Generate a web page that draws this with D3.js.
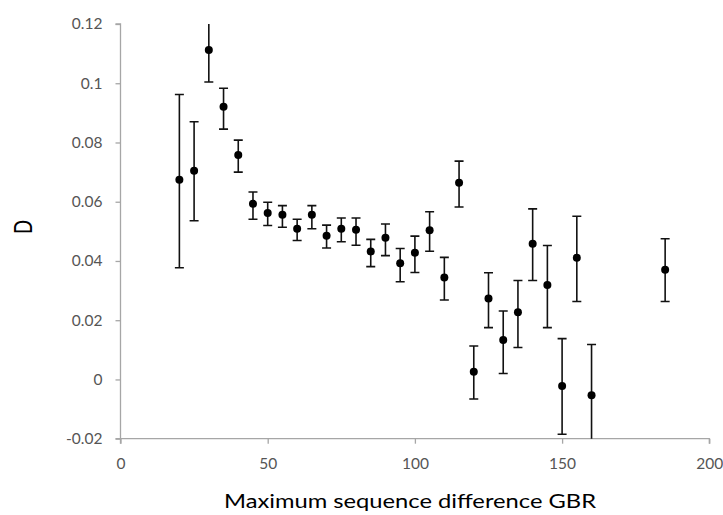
<!DOCTYPE html>
<html><head><meta charset="utf-8">
<script src="https://cdn.jsdelivr.net/npm/d3@7"></script>
<style>body{margin:0;background:#fff}svg{display:block}</style>
</head><body>
<script>
const xValues = [20,25,30,35,40,45,50,55,60,65,70,75,80,85,90,95,100,105,110,115,120,125,130,135,140,145,150,155,160,185];
const dValues = [0.0674,0.0705,0.1112,0.0921,0.0758,0.0593,0.0562,0.0556,0.0509,0.0556,0.0485,0.0509,0.0505,0.0432,0.0478,0.0392,0.0428,0.0504,0.0344,0.0664,0.0026,0.0273,0.0133,0.0227,0.0458,0.0319,-0.0022,0.0411,-0.0053,0.0370];
const upperValues = [0.0962,0.0870,0.1216,0.0983,0.0808,0.0633,0.0598,0.0587,0.0541,0.0587,0.0521,0.0545,0.0545,0.0473,0.0525,0.0442,0.0484,0.0566,0.0412,0.0737,0.0113,0.0360,0.0231,0.0334,0.0576,0.0452,0.0138,0.0551,0.0118,0.0475];
const lowerValues = [0.0377,0.0536,0.1004,0.0845,0.0700,0.0541,0.0520,0.0514,0.0469,0.0509,0.0444,0.0465,0.0453,0.0381,0.0418,0.0330,0.0361,0.0433,0.0268,0.0582,-0.0066,0.0175,0.0020,0.0108,0.0334,0.0175,-0.0185,0.0263,-0.0224,0.0263];
const xTicks = [0,50,100,150,200];
const yTicks = [-0.02,0,0.02,0.04,0.06,0.08,0.1,0.12];
const xTitle = "Maximum sequence difference GBR";
const yTitle = "D";

const W = 723, H = 515;
const mLeft = 120.5, mRight = 709.3, mTop = 24, mBottom = 438.7;
const x = d3.scaleLinear().domain([0,200]).range([mLeft,mRight]);
const y = d3.scaleLinear().domain([-0.02,0.12]).range([mBottom,mTop]);

const svg = d3.select("body").append("svg").attr("width",W).attr("height",H);
const font = "Lato, 'Open Sans', sans-serif";

svg.append("defs").append("clipPath").attr("id","clip")
  .append("rect").attr("x",mLeft-10).attr("y",mTop).attr("width",mRight-mLeft+20).attr("height",mBottom-mTop);

const yAxis = svg.append("g").attr("transform",`translate(${mLeft},0)`)
  .call(d3.axisLeft(y).tickValues(yTicks).tickSize(5).tickPadding(13).tickFormat(d => String(+d.toFixed(2))));
const xAxis = svg.append("g").attr("transform",`translate(0,${mBottom})`)
  .call(d3.axisBottom(x).tickValues(xTicks).tickSize(5).tickPadding(14));
[yAxis,xAxis].forEach(g => {
  g.selectAll("path.domain").attr("stroke","#a6a6a6").attr("stroke-width",1.3);
  g.selectAll(".tick line").attr("stroke","#a6a6a6").attr("stroke-width",1.3);
  g.selectAll(".tick text").attr("fill","#555").attr("font-family",font).attr("font-size",15.5);
});
yAxis.select("path.domain").attr("d",`M-5,${mBottom}H0V${mTop}H-5`);
xAxis.select("path.domain").attr("d",`M${mLeft},5V0H${mRight}V5`);

const data = xValues.map((v,i)=>({x:v,d:dValues[i],hi:upperValues[i],lo:lowerValues[i]}));
const plot = svg.append("g").attr("clip-path","url(#clip)");
const cap = 4.5;
const eb = plot.selectAll("g.eb").data(data).join("g").attr("class","eb")
  .attr("stroke","#111").attr("stroke-width",1.6);
eb.append("line").attr("x1",d=>x(d.x)).attr("x2",d=>x(d.x)).attr("y1",d=>y(d.hi)).attr("y2",d=>y(d.lo));
eb.append("line").attr("x1",d=>x(d.x)-cap).attr("x2",d=>x(d.x)+cap).attr("y1",d=>y(d.hi)).attr("y2",d=>y(d.hi));
eb.append("line").attr("x1",d=>x(d.x)-cap).attr("x2",d=>x(d.x)+cap).attr("y1",d=>y(d.lo)).attr("y2",d=>y(d.lo));
plot.selectAll("circle").data(data).join("circle")
  .attr("cx",d=>x(d.x)).attr("cy",d=>y(d.d)).attr("r",4).attr("fill","#000");

svg.append("text").attr("x",410).attr("y",507.5)
  .attr("text-anchor","middle").attr("font-family",font).attr("font-size",18.5).attr("fill","#000")
  .attr("textLength",372).attr("lengthAdjust","spacingAndGlyphs").text(xTitle);
svg.append("text").attr("transform","translate(31.5,227) scale(1.38,1) rotate(-90)")
  .attr("text-anchor","middle").attr("font-family",font).attr("font-size",18.5).attr("fill","#000").text(yTitle);
</script>
</body></html>
